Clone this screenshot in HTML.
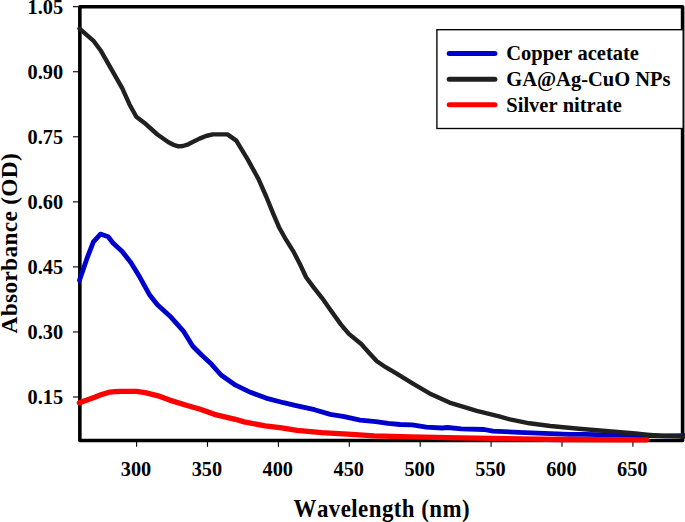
<!DOCTYPE html>
<html>
<head>
<meta charset="utf-8">
<style>
html,body{margin:0;padding:0;background:#fff;}
body{width:685px;height:522px;overflow:hidden;}
svg{display:block;font-family:"Liberation Serif",serif;font-weight:bold;font-kerning:none;fill:#000;}
.tk{font-size:20.3px;}
.ti{font-size:23.7px;}
.lg{font-size:20.5px;}
</style>
</head>
<body>
<svg width="685" height="522" viewBox="0 0 685 522">
<rect width="685" height="522" fill="#fff"/>
<!-- plot frame -->
<rect x="79.85" y="6.70" width="602.75" height="433.75" fill="none" stroke="#000" stroke-width="3.6" stroke-linejoin="round"/>
<!-- tick marks -->
<g stroke="#000" stroke-width="1.1">
<line x1="73" x2="79" y1="6.70" y2="6.70"/>
<line x1="73" x2="79" y1="71.75" y2="71.75"/>
<line x1="73" x2="79" y1="136.80" y2="136.80"/>
<line x1="73" x2="79" y1="201.85" y2="201.85"/>
<line x1="73" x2="79" y1="266.90" y2="266.90"/>
<line x1="73" x2="79" y1="331.95" y2="331.95"/>
<line x1="73" x2="79" y1="397.00" y2="397.00"/>
<line y1="441" y2="446.8" x1="136.60" x2="136.60"/>
<line y1="441" y2="446.8" x1="207.50" x2="207.50"/>
<line y1="441" y2="446.8" x1="278.40" x2="278.40"/>
<line y1="441" y2="446.8" x1="349.30" x2="349.30"/>
<line y1="441" y2="446.8" x1="420.20" x2="420.20"/>
<line y1="441" y2="446.8" x1="491.10" x2="491.10"/>
<line y1="441" y2="446.8" x1="562.00" x2="562.00"/>
<line y1="441" y2="446.8" x1="632.90" x2="632.90"/>
</g>
<!-- y tick labels -->
<g class="tk" text-anchor="end">
<text x="63.1" y="13.6">1.05</text>
<text x="63.1" y="78.6">0.90</text>
<text x="63.1" y="143.6">0.75</text>
<text x="63.1" y="208.7">0.60</text>
<text x="63.1" y="273.8">0.45</text>
<text x="63.1" y="338.8">0.30</text>
<text x="63.1" y="403.8">0.15</text>
</g>
<!-- x tick labels -->
<g class="tk" text-anchor="middle">
<text x="136.0" y="475.7">300</text>
<text x="206.9" y="475.7">350</text>
<text x="277.8" y="475.7">400</text>
<text x="348.7" y="475.7">450</text>
<text x="419.6" y="475.7">500</text>
<text x="490.5" y="475.7">550</text>
<text x="561.4" y="475.7">600</text>
<text x="632.3" y="475.7">650</text>
</g>
<!-- axis titles -->
<text transform="translate(381.8,516.7) scale(1,1.1)" font-size="22.9" letter-spacing="0.45" text-anchor="middle">Wavelength (nm)</text>
<text transform="translate(16.6,243.2) rotate(-90) scale(1,1.035)" font-size="23.3" letter-spacing="0.35" text-anchor="middle">Absorbance (OD)</text>
<!-- data curves -->
<g fill="none" stroke-linecap="round" stroke-linejoin="round">
<path stroke="#0000cc" stroke-width="4.8" d="M79.5,280.2L87.4,257.3L93.4,241.9L100.5,234.1L108.2,236.8L113.0,243.0L122.2,251.5L131.0,262.8L138.8,275.4L149.7,295.1L157.2,304.6L170.9,317.1L183.2,330.8L192.8,346.2L201.3,354.8L211.6,364.3L221.0,375.0L235.6,385.2L250.5,392.3L266.0,398.1L283.6,402.7L295.0,405.3L314.5,409.7L330.3,414.4L344.3,416.6L360.1,420.2L375.8,421.6L388.1,423.3L400.0,424.5L412.3,424.9L426.3,427.1L442.0,428.0L447.5,427.5L461.3,428.9L484.1,429.5L492.9,431.2L518.9,432.3L569.8,434.4L585.0,434.4L620.0,435.2L640.0,435.5L652.0,435.6L665.0,435.8L684.0,435.6"/>
<path stroke="#202020" stroke-width="4.4" d="M79.5,28.7L93.8,41.2L100.5,50.2L122.3,88.4L129.4,104.2L136.3,116.8L144.5,122.9L157.4,134.5L168.5,142.2L173.5,144.8L178.4,146.4L183.0,146.0L188.2,144.3L199.5,138.6L206.0,136.0L212.8,134.4L227.5,134.4L236.3,140.6L247.8,159.6L258.3,178.7L266.2,196.5L273.2,213.6L279.0,227.2L286.0,239.7L293.8,252.2L300.0,264.2L306.1,277.2L314.0,287.9L321.9,297.8L330.5,309.9L341.0,324.6L348.9,333.9L361.2,344.0L369.9,353.7L376.9,361.2L385.7,367.2L397.1,373.9L412.9,383.7L429.6,393.4L449.5,402.6L476.8,410.8L499.2,416.3L509.9,419.4L529.4,423.3L550.3,426.0L578.8,428.7L608.7,431.2L635.6,433.5L647.0,434.7L659.6,435.8L684.0,436.5"/>
<path stroke="#ff0000" stroke-width="5.3" d="M79.4,402.8L87.0,400.0L94.0,397.4L101.0,394.8L108.3,392.4L114.5,391.7L120.5,391.4L136.3,391.4L145.1,392.6L157.3,395.6L169.6,400.1L186.3,405.3L200.3,409.2L214.3,414.3L235.3,419.3L244.1,421.9L265.1,425.8L280.0,427.6L297.0,430.3L321.7,432.7L347.8,434.2L374.1,435.8L410.0,436.9L460.0,437.8L520.0,438.9L560.0,439.5L646.5,439.8"/>
</g>
<!-- legend -->
<rect x="436.90" y="29.70" width="246.30" height="98.80" fill="#fff" stroke="#000" stroke-width="1.35"/>
<g fill="none" stroke-linecap="round" stroke-width="5.0">
<line x1="449.2" x2="494.9" y1="53.4" y2="53.4" stroke="#0000cc"/>
<line x1="449.2" x2="494.9" y1="79.2" y2="79.2" stroke="#202020"/>
<line x1="449.2" x2="494.9" y1="104.85" y2="104.85" stroke="#ff0000"/>
</g>
<g class="lg">
<text x="506.3" y="60.25">Copper acetate</text>
<text x="506.3" y="85.95">GA@Ag-CuO NPs</text>
<text x="506.3" y="111.65">Silver nitrate</text>
</g>
</svg>
</body>
</html>
